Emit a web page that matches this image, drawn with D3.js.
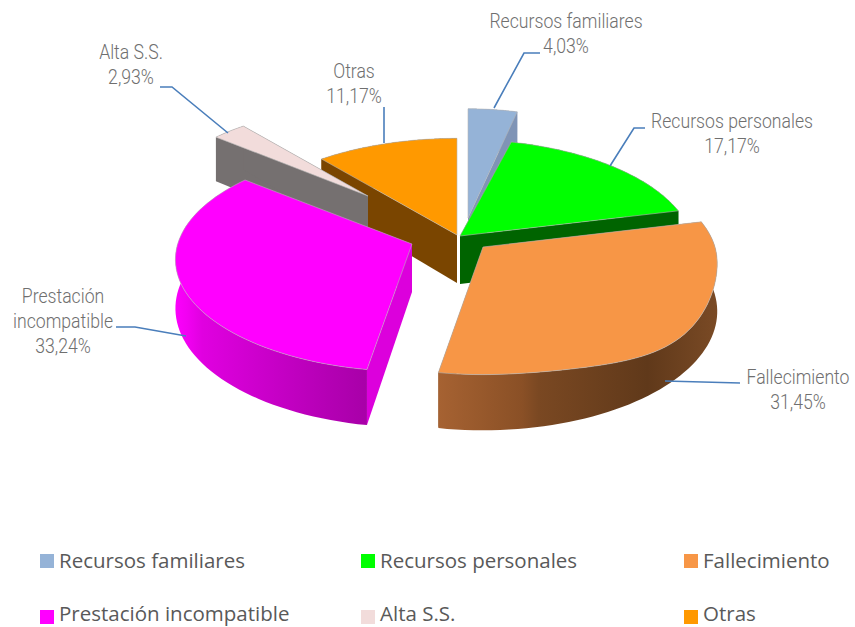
<!DOCTYPE html>
<html><head><meta charset="utf-8">
<script src="https://cdn.jsdelivr.net/npm/d3@7/dist/d3.min.js"></script>
<style>html,body{margin:0;padding:0;background:#fff}svg{display:block}</style>
</head><body><div id="c"></div>
<script>
// Data
const categories = ["Recursos familiares","Recursos personales","Fallecimiento","Prestación incompatible","Alta S.S.","Otras"];
const values = [4.03,17.17,31.45,33.24,2.93,11.17];
const valueLabels = ["4,03%","17,17%","31,45%","33,24%","2,93%","11,17%"];
const topColors = ["#95B3D7","#00FF00","#F79646","#FF00FF","#F2DCDB","#FF9900"];
const labelLines = [["Recursos familiares"],["Recursos personales"],["Fallecimiento"],["Prestación","incompatible"],["Alta S.S."],["Otras"]];

// Layout of the exploded 3D pie (separate from the data)
const W = 855, H = 627;
const tips = [[468,218],[460,236],[483,247],[412,244],[368,196],[457,235]];
const sliceScaleX = [0.96,1,1,1.01,0.92,1];
const sliceScaleY = [1.13,1,1,1,0.92,1];
const frontBulge = [0,0,0.65,0,0,0];
const drawOrder = [0,5,4,1,3,2];
const radiusX = 232, radiusY = 110, persp = 0.138, depth = 48;
const radFaces = ["#7F94B6","#006400","#8a5226","#DC00DC","#757070","#7A4500"];
const sideStops = [
  [[0,"#7F94B6"],[1,"#7F94B6"]],
  [[0,"#006400"],[1,"#006400"]],
  [[0,"#A66232"],[0.3,"#8A5026"],[0.36,"#7A4822"],[0.75,"#60391A"],[1,"#7A4A25"]],
  [[0,"#FC00FC"],[0.06,"#F200F2"],[0.14,"#E000E0"],[0.5,"#C800C8"],[0.8,"#B400B4"],[1,"#A800A8"]],
  [[0,"#757070"],[1,"#757070"]],
  [[0,"#7A4500"],[1,"#7A4500"]]
];
const leaders = [
  [[494,108],[524,53],[540,53]],
  [[610,166],[634,128],[645,128]],
  [[665,381],[740,383]],
  [[186,336],[135,327],[116,327]],
  [[228,133],[172,87],[160,87]],
  [[384,143],[384,107]]
];
const labelPos = [[566,28],[732,128],[798,384],[63,303],[131,59],[354,78]];
const legendCols = [40,361,684], legendRows = [554,607];

const arcs = d3.pie().sort(null).value(d=>d)(values);
const svg = d3.select("#c").append("svg").attr("width",W).attr("height",H);
const defs = svg.append("defs");

const xS = d3.scaleLinear().domain([-1,1]).range([-radiusX,radiusX]);
const yS = d3.scaleLinear().domain([-1,1]).range([-radiusY,radiusY]);

function proj(i,theta,r){
  const X = r*Math.sin(theta), Y = -r*Math.cos(theta);
  const p = 1/(1-persp*Y);
  const base = tips[i][1]+yS(Y)*p*sliceScaleY[i];
  const bulge = 1+frontBulge[i]*Math.pow(Math.max(0,X),3)*Math.max(0,Y);
  return {x:tips[i][0]+xS(X)*p*sliceScaleX[i],
          y:tips[i][1]+yS(Y)*p*sliceScaleY[i]*bulge,
          yb:base+depth*p};
}
const line = d3.line().x(d=>d[0]).y(d=>d[1]);
function sample(a,b,n){ return d3.range(n+1).map(k=>a+(b-a)*k/n); }

drawOrder.forEach(i=>{
  const a = arcs[i], g = svg.append("g");
  const ts = sample(a.startAngle,a.endAngle,60);
  const rim = ts.map(t=>proj(i,t,1));
  const tip = proj(i,0,0);
  const xe = d3.extent(rim,d=>d.x);
  const grad = defs.append("linearGradient").attr("id","s"+i).attr("gradientUnits","userSpaceOnUse")
    .attr("x1",xe[0]).attr("x2",xe[1]).attr("y1",0).attr("y2",0);
  sideStops[i].forEach(s=>grad.append("stop").attr("offset",s[0]).attr("stop-color",s[1]));
  // radial walls
  [rim[0],rim[rim.length-1]].forEach(c=>{
    const q=[[tip.x,tip.y],[c.x,c.y],[c.x,c.yb],[tip.x,tip.yb]];
    g.append("path").attr("d",line(q)+"Z").attr("fill",radFaces[i]);
  });
  // outer wall
  const wall = rim.map(p=>[p.x,p.y]).concat(rim.slice().reverse().map(p=>[p.x,p.yb]));
  g.append("path").attr("d",line(wall)+"Z").attr("fill",`url(#s${i})`);
  // top face
  const top = [[tip.x,tip.y]].concat(rim.map(p=>[p.x,p.y]));
  g.append("path").attr("d",line(top)+"Z").attr("fill",topColors[i])
    .attr("stroke","#b5b5b5").attr("stroke-width",0.6);
});

// Leader lines
svg.append("g").selectAll("path").data(leaders).join("path")
  .attr("d",d=>line(d)).attr("fill","none").attr("stroke","#4A7EBB").attr("stroke-width",1.6);

// Data labels
const lab = svg.append("g").attr("font-family","Roboto, 'Open Sans', sans-serif").attr("font-weight",300)
  .attr("font-size",19.5).attr("fill","#6f6f6f").attr("text-anchor","middle");
categories.forEach((c,i)=>{
  const lines = labelLines[i].concat([valueLabels[i]]);
  lines.forEach((t,k)=>{
    lab.append("text")
      .attr("transform",`translate(${labelPos[i][0]},${labelPos[i][1]+k*25}) scale(0.905,1)`)
      .text(t);
  });
});

// Legend
const leg = svg.append("g").attr("font-family","'Open Sans', Lato, sans-serif").attr("font-size",20.5).attr("fill","#595959");
categories.forEach((c,i)=>{
  const x = legendCols[i%3], y = legendRows[Math.floor(i/3)];
  leg.append("rect").attr("x",x).attr("y",i<3?y:610).attr("width",14).attr("height",14).attr("fill",topColors[i]);
  leg.append("text").attr("x",x+19).attr("y",y+14).text(c);
});
</script></body></html>
